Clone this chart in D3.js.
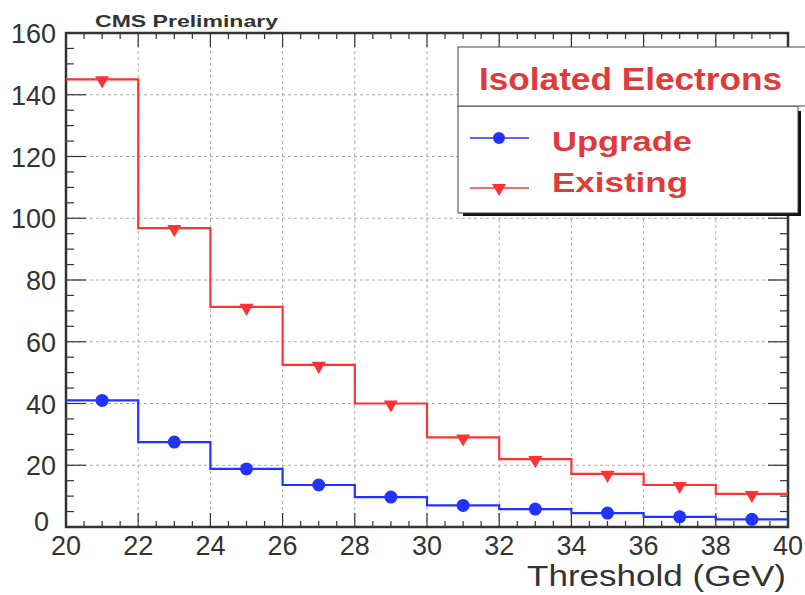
<!DOCTYPE html>
<html><head><meta charset="utf-8">
<script src="https://cdn.jsdelivr.net/npm/d3@7"></script>
<style>body{margin:0;background:#fff}text{font-family:"Liberation Sans",Arial,sans-serif}</style>
</head><body>
<svg id="c" width="805" height="595"></svg>
<script>
const binEdges = [20,22,24,26,28,30,32,34,36,38,40];
const upgrade  = [41,27.5,18.8,13.6,9.7,7,5.8,4.5,3.3,2.5];
const existing = [145,96.8,71.3,52.5,40,29,22,17.2,13.6,10.7];
const xTicks = [20,22,24,26,28,30,32,34,36,38,40];
const yTicks = [0,20,40,60,80,100,120,140,160];

const svg = d3.select('#c');
const L=66,R=788,T=33,B=527;
const x = d3.scaleLinear().domain([20,40]).range([L,R]);
const y = d3.scaleLinear().domain([0,160]).range([B,T]);

// grid
const g = svg.append('g');
g.selectAll('.gx').data(xTicks.slice(1,-1)).join('line')
 .attr('x1',d=>x(d)).attr('x2',d=>x(d)).attr('y1',T).attr('y2',B)
 .attr('stroke','#aaa').attr('stroke-width',1).attr('stroke-dasharray','3,3');
g.selectAll('.gy').data(yTicks.slice(1,-1)).join('line')
 .attr('y1',d=>y(d)).attr('y2',d=>y(d)).attr('x1',L).attr('x2',R)
 .attr('stroke','#aaa').attr('stroke-width',1).attr('stroke-dasharray','3,3');

// ticks (major + minor) on all four sides
const xMinor = d3.range(20,40.001,0.5);
const yMinor = d3.range(0,160.001,5);
const tk = svg.append('g').attr('stroke','#333').attr('stroke-width',1.2);
xMinor.forEach(v=>{
  const len = (Math.abs(v%2)<1e-6)?14:6;
  tk.append('line').attr('x1',x(v)).attr('x2',x(v)).attr('y1',B).attr('y2',B-len);
  tk.append('line').attr('x1',x(v)).attr('x2',x(v)).attr('y1',T).attr('y2',T+len);
});
yMinor.forEach(v=>{
  const len = (Math.abs(v%20)<1e-6)?20:8;
  tk.append('line').attr('y1',y(v)).attr('y2',y(v)).attr('x1',L).attr('x2',L+len);
  tk.append('line').attr('y1',y(v)).attr('y2',y(v)).attr('x1',R).attr('x2',R-len);
});

// frame
svg.append('rect').attr('x',L).attr('y',T).attr('width',R-L).attr('height',B-T)
 .attr('fill','none').attr('stroke','#333').attr('stroke-width',2.5);

// tick labels
svg.append('g').selectAll('text').data(xTicks).join('text')
 .attr('x',d=>x(d)).attr('y',B+28).attr('text-anchor','middle')
 .attr('font-size',27).attr('fill','#333').text(d=>d);
svg.append('g').selectAll('text').data(yTicks).join('text')
 .attr('x',d=>d===0?L-17:L-10).attr('y',d=>d===0?y(d)+4:y(d)+10).attr('text-anchor','end')
 .attr('font-size',27).attr('fill','#333').text(d=>d);

svg.append('text').attr('x',527).attr('y',586)
 .attr('font-size',29).attr('fill','#333')
 .attr('textLength',259).attr('lengthAdjust','spacingAndGlyphs').text('Threshold (GeV)');
svg.append('text').attr('x',95).attr('y',27).attr('font-size',17).attr('font-weight','bold')
 .attr('fill','#333').attr('textLength',183).attr('lengthAdjust','spacingAndGlyphs').text('CMS Preliminary');

// step histograms
function stepPath(vals){
  const p = d3.path();
  p.moveTo(x(binEdges[0]),y(vals[0]));
  vals.forEach((v,i)=>{
    if(i>0) p.lineTo(x(binEdges[i]),y(v));
    p.lineTo(x(binEdges[i+1]),y(v));
  });
  return p.toString();
}
const red='#ff3333', blue='#2233ff';
svg.append('path').attr('d',stepPath(existing)).attr('fill','none').attr('stroke',red).attr('stroke-width',2.2);
svg.append('path').attr('d',stepPath(upgrade)).attr('fill','none').attr('stroke',blue).attr('stroke-width',2.2);

const centers = binEdges.slice(0,-1).map((e,i)=>(e+binEdges[i+1])/2);
const tri = d3.symbol().type(d3.symbolTriangle).size(85);
svg.append('g').selectAll('path').data(existing).join('path')
 .attr('d',tri).attr('fill',red)
 .attr('transform',(d,i)=>`translate(${x(centers[i])},${y(d)+1}) rotate(180)`);
svg.append('g').selectAll('circle').data(upgrade).join('circle')
 .attr('cx',(d,i)=>x(centers[i])).attr('cy',d=>y(d)).attr('r',6.5).attr('fill',blue);

// legend
const lg = svg.append('g');
lg.append('rect').attr('x',463).attr('y',111).attr('width',338).attr('height',105).attr('fill','#111');
lg.append('rect').attr('x',458).attr('y',106).attr('width',340).attr('height',107).attr('fill','#fff').attr('stroke','#444').attr('stroke-width',1);
lg.append('rect').attr('x',458).attr('y',47).attr('width',350).attr('height',59).attr('fill','#fff').attr('stroke','#444').attr('stroke-width',1);
const lc='#e03a3a';
lg.append('text').attr('x',479).attr('y',90).attr('font-size',31).attr('font-weight','bold')
 .attr('fill',lc).attr('textLength',303).attr('lengthAdjust','spacingAndGlyphs').text('Isolated Electrons');
lg.append('line').attr('x1',470).attr('x2',529).attr('y1',138).attr('y2',138).attr('stroke',blue).attr('stroke-width',1.5);
lg.append('circle').attr('cx',499).attr('cy',138).attr('r',6).attr('fill',blue);
lg.append('line').attr('x1',470).attr('x2',529).attr('y1',188).attr('y2',188).attr('stroke',red).attr('stroke-width',1.5);
lg.append('path').attr('d',tri).attr('fill',red).attr('transform','translate(499,188) rotate(180)');
lg.append('text').attr('x',552).attr('y',151).attr('font-size',28).attr('font-weight','bold').attr('fill',lc)
 .attr('textLength',140).attr('lengthAdjust','spacingAndGlyphs').text('Upgrade');
lg.append('text').attr('x',552).attr('y',192).attr('font-size',28).attr('font-weight','bold').attr('fill',lc)
 .attr('textLength',136).attr('lengthAdjust','spacingAndGlyphs').text('Existing');
</script>
</body></html>
